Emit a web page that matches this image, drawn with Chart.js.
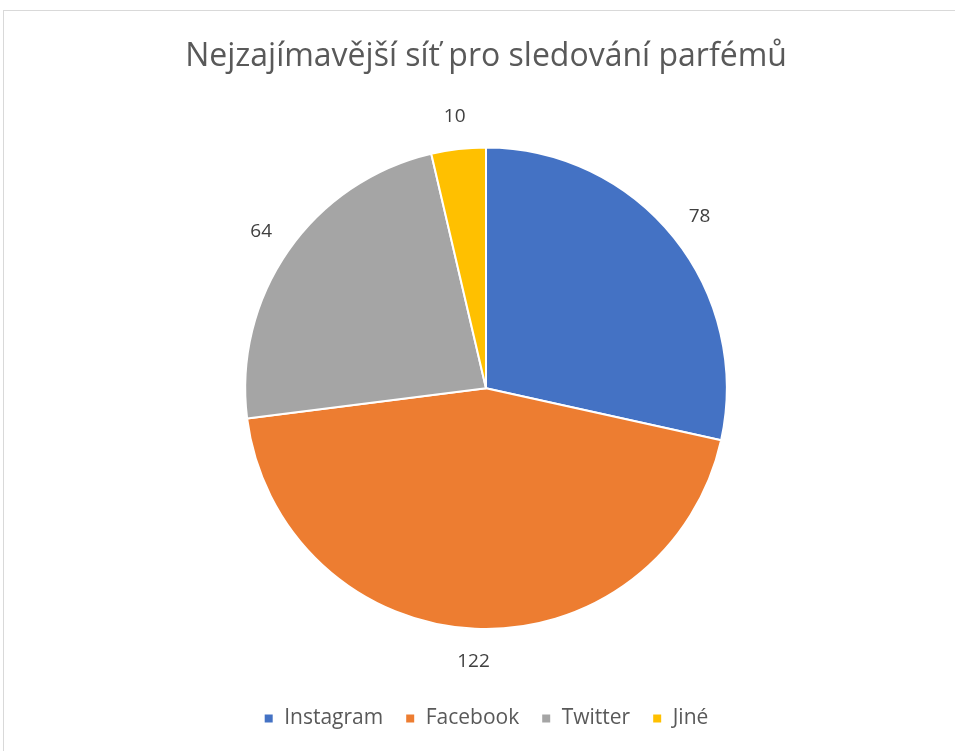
<!DOCTYPE html>
<html>
<head>
<meta charset="utf-8">
<script src="https://cdn.jsdelivr.net/npm/chart.js@4/dist/chart.umd.min.js"></script>
<style>
  html, body { margin: 0; padding: 0; background: #fff; }
  #frame {
    position: absolute; left: 3px; top: 10px; width: 1000px; height: 800px;
    border-left: 1px solid #d9d9d9; border-top: 1px solid #d9d9d9;
  }
  #wrap { position: absolute; left: 0; top: 0; width: 955px; height: 751px; }
</style>
</head>
<body>
<div id="frame"></div>
<div id="wrap"><canvas id="pie"></canvas></div>
<script>
// chart data
const categories = ["Instagram", "Facebook", "Twitter", "Jiné"];
const counts = [78, 122, 64, 10];
const sliceColors = ["#4472C4", "#ED7D31", "#A5A5A5", "#FFC000"];
const chartTitle = "Nejzajímavější síť pro sledování parfémů";

const FONT = "'Open Sans', 'Noto Sans', sans-serif";

/**
 * Draws each value just outside its slice, like Excel's "outside end" labels.
 */
const outsideLabels = {
  id: "outsideLabels",
  afterDatasetsDraw(chart) {
    const ctx = chart.ctx;
    const meta = chart.getDatasetMeta(0);
    ctx.save();
    ctx.font = "19px " + FONT;
    ctx.fillStyle = "#404040";
    ctx.textAlign = "center";
    ctx.textBaseline = "middle";
    meta.data.forEach((arc, i) => {
      const p = arc.getProps(["x", "y", "startAngle", "endAngle", "outerRadius"], true);
      const mid = (p.startAngle + p.endAngle) / 2;
      const r = p.outerRadius + 33;
      ctx.fillText(String(counts[i]), p.x + Math.cos(mid) * r, p.y + Math.sin(mid) * r);
    });
    ctx.restore();
  },
};

new Chart(document.getElementById("pie"), {
  type: "pie",
  data: {
    labels: categories,
    datasets: [{
      data: counts,
      backgroundColor: sliceColors,
      borderColor: "#ffffff",
      borderWidth: 2,
    }],
  },
  options: {
    responsive: true,
    maintainAspectRatio: false,
    animation: false,
    layout: { padding: { left: 17, right: 0, top: 0, bottom: 12 } },
    plugins: {
      title: {
        display: true,
        text: chartTitle,
        color: "#595959",
        font: { family: FONT, size: 32, weight: "normal" },
        padding: { top: 38, bottom: 70 },
      },
      legend: {
        display: true,
        position: "bottom",
        // empty legend title used as a spacer between pie and legend
        title: { display: true, text: " ", font: { size: 10 }, padding: { top: 44, bottom: 0 } },
        labels: {
          color: "#595959",
          font: { family: FONT, size: 21 },
          boxWidth: 10,
          boxHeight: 10,
          padding: 22,
        },
      },
      tooltip: { enabled: false },
    },
  },
  plugins: [outsideLabels],
});
</script>
</body>
</html>
